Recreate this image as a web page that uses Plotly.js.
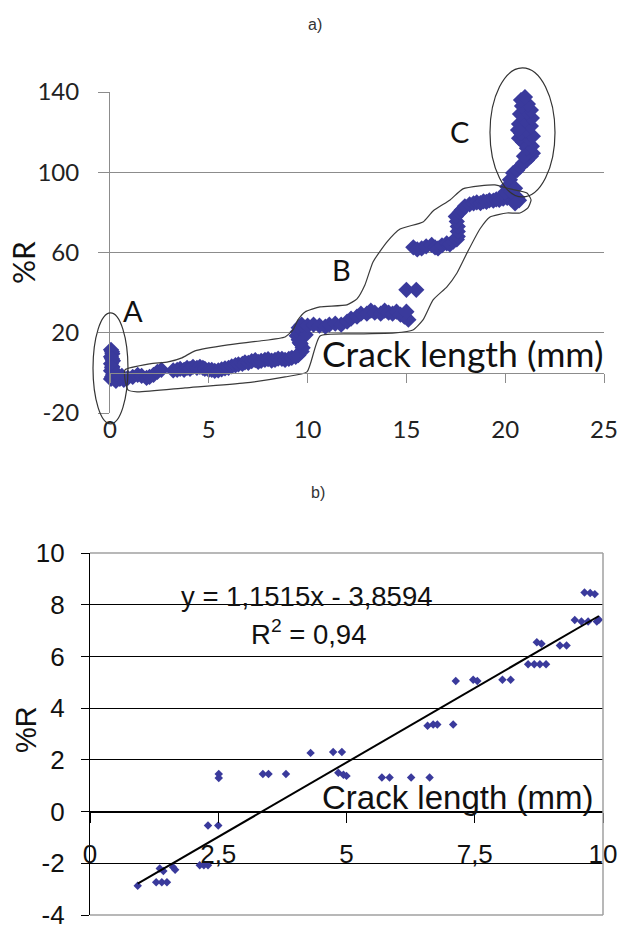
<!DOCTYPE html>
<html><head><meta charset="utf-8">
<script src="https://cdn.plot.ly/plotly-3.0.1.min.js"></script>
<style>html,body{margin:0;padding:0;background:#fff;}#chart{width:620px;height:925px;}</style>
</head><body><div id="chart"></div>
<script>
// ---------- Chart a) data ----------
const crackA = [
  0.05,0.12,0.05,0.15,0.05,0.12,0.05,0.15,0.05,0.1,0.1,0.1,0.1,0.3,0.5,0.7,0.6,0.35,
  0.9,1.15,1.4,1.6,1.85,2.0,2.2,2.4,2.6,
  3.2,3.4,3.55,3.75,3.9,4.05,4.2,4.4,4.55,4.7,4.8,5.0,5.15,5.3,5.48,5.65,5.82,6.0,6.16,6.35,6.5,6.7,6.83,7.0,7.17,7.35,7.5,7.65,7.84,8.0,8.18,8.35,8.51,8.7,8.86,9.05,9.2,9.4,9.53,9.7,
  9.75,9.65,9.55,9.45,9.5,9.55,9.75,9.9,9.7,9.6,
  10.0,10.3,10.6,10.9,11.1,11.4,11.7,12.0,12.2,12.5,12.7,13.0,13.2,13.4,13.7,13.9,14.1,14.3,14.5,14.7,14.9,15.1,15.0,15.0,15.5,
  15.35,15.55,15.77,16.0,16.28,16.45,16.6,16.8,17.04,17.2,17.37,17.55,17.6,17.6,17.6,17.55,17.5,17.7,17.8,17.96,
  18.2,18.4,18.56,18.75,18.9,19.05,19.2,19.4,19.55,19.7,19.9,20.1,20.3,20.45,20.6,20.7,20.5,
  20.0,20.1,20.24,20.4,20.3,20.5,20.6,20.75,20.9,21.1,21.3,21.4,
  21.2,20.95,21.1,21.35,20.9,21.2,21.4,20.7,20.8,21.05,21.3,20.7,21.0,21.35,20.75,21.1,21.3,20.85,21.15,20.8,21.0,20.65
];
const ratioA = [
  11.5,9.5,8,6,4.5,3,1,-1,-3,10.5,7,2.5,-2,-4,-3,-3.5,-1.5,-0.5,
  -2.5,-2,-1,-1.5,-2.5,-2,-1,0.5,1.5,
  1.2,1.5,2,1.5,2.5,2,3,2.5,3,2.5,2,1.5,1.5,1,1.2,1.8,2.2,2.5,3.2,3.8,4.2,4.5,5.2,5,5.8,6.3,5.5,6,6.5,6.8,6.1,6.5,7.1,7,6.5,7,7.5,8,8.8,10.6,
  12.5,14.5,16.5,18.5,20.5,22.5,21,19,24,15,
  23.5,24,23.5,23,24,24.5,24,25.5,27,28,29.5,29.5,31,30,29.5,31,30,29.5,30.5,29,28,26.5,30.5,41.4,41.4,
  62.6,61.5,62,63,63.8,62.5,62,63.5,64.6,64,65.4,66.5,68,70.5,73,75.5,78,80,81.2,83,
  84,84.5,85,84.6,85.5,85.2,86,85.8,86.5,86.2,86.8,87.2,87,87.8,87.5,86,84.5,
  90,92.8,96.2,99.6,90.5,92,101,102.8,104.5,106,108,109.5,
  110,108,112,113,115,117,118,117,119.5,121,123,124,126,127,129,130,131,133,134,136,137.5,121
];
// hand-drawn envelope around zone B (annotation outline, data units)
const envX = [0.76,2.02,2.94,3.64,4.30,5.97,7.59,8.86,9.26,9.51,9.87,10.63,11.99,12.50,12.90,13.31,14.02,14.68,15.84,16.35,17.21,17.86,18.72,19.48,20.24,21.10,21.31,21.15,20.75,20.09,19.23,18.72,18.07,17.56,17.05,16.35,15.84,15.33,14.42,12.65,10.63,9.97,8.86,6.83,3.80,1.37,0.91,0.76,0.76];
const envY = [1.5,4.5,5.5,7.5,11.0,14.0,15.9,17.9,21.4,26.4,30.4,32.9,33.9,36.9,43.8,55.3,65.3,71.7,75.2,80.7,86.2,91.7,93.2,93.7,91.7,89.7,86.2,82.2,79.7,79.7,77.7,71.7,59.8,49.8,42.9,36.4,26.4,21.4,19.9,19.4,18.4,0.5,-2.0,-5.0,-7.5,-9.5,-8.5,-3.5,1.5];
// ellipses A and C (data units)
const ellA = {x:[-0.86,0.91], y:[-25.4,29.9]};
const ellC = {x:[19.23,22.52], y:[87.7,152]};
const zoneLabels = ['A','B','C'];
const zoneX = [1.16,11.74,17.71];
const zoneY = [30.9,51.3,120.1];
const tickAX = [0,5,10,15,20,25];
const tickAY = [-20,20,60,100,140];
const tickAYText = ['-20','20','60','100','140'];
const rangeAX = [0,25], rangeAY = [-20,140];

// ---------- Chart b) data ----------
const crackB = [0.93,1.29,1.40,1.50,1.36,1.43,1.62,1.66,2.14,2.22,2.30,2.30,2.50,2.51,2.51,3.37,3.48,3.82,4.30,4.74,4.91,4.84,4.94,5.00,5.69,5.84,6.26,6.62,6.58,6.69,6.77,7.08,7.13,7.47,7.55,8.04,8.20,8.54,8.66,8.77,8.89,8.71,8.80,9.16,9.29,9.45,9.58,9.71,9.88,9.92,9.64,9.75,9.84];
const ratioB = [-2.87,-2.73,-2.73,-2.73,-2.20,-2.30,-2.15,-2.25,-2.08,-2.08,-2.08,-0.54,-0.54,1.45,1.30,1.45,1.45,1.45,2.27,2.30,2.30,1.50,1.42,1.38,1.32,1.32,1.32,1.32,3.32,3.37,3.37,3.37,5.05,5.10,5.05,5.10,5.10,5.70,5.70,5.70,5.70,6.55,6.49,6.42,6.42,7.41,7.35,7.35,7.35,7.42,8.47,8.45,8.41];
const slopeB = 1.1515, interceptB = -3.8594;
const tickBX = [0,2.5,5,7.5,10];
const tickBXText = ['0','2,5','5','7,5','10'];
const tickBY = [-4,-2,0,2,4,6,8,10];
const tickBYText = ['-4','-2','0','2','4','6','8','10'];
const rangeBX = [0,10], rangeBY = [-4,10];

// ---------- layout geometry ----------
const W = 620, H = 925;
const domAx = [110/W, 604/W], domAy = [1-413/H, 1-92/H];
const domBx = [90/W, 603/W], domBy = [1-915/H, 1-553/H];
function toPaper(v, r, d){ return d[0] + (v-r[0])/(r[1]-r[0])*(d[1]-d[0]); }
const zeroA = toPaper(0, rangeAY, domAy);
const zeroB = toPaper(0, rangeBY, domBy);

const trendX = [Math.min(...crackB), Math.max(...crackB)];
const trendY = trendX.map(v => slopeB*v + interceptB);

const blue = '#3a3a9c';
const gridA = '#8c8c8c';
const fA = 'Lato', fB = 'Liberation Sans, Arial, sans-serif';

const traces = [
  {x: crackA, y: ratioA, xaxis:'x', yaxis:'y', type:'scatter', mode:'markers',
   marker:{symbol:'diamond', size:12.5, color:blue}, cliponaxis:false, hoverinfo:'skip'},
  {x: envX, y: envY, xaxis:'x2', yaxis:'y', type:'scatter', mode:'lines',
   line:{color:'#3a3a3a', width:1.2, shape:'spline', smoothing:0.5}, cliponaxis:false, hoverinfo:'skip'},
  {x: crackB, y: ratioB, xaxis:'x3', yaxis:'y3', type:'scatter', mode:'markers',
   marker:{symbol:'diamond', size:6.5, color:blue}, cliponaxis:false, hoverinfo:'skip'},
  {x: trendX, y: trendY, xaxis:'x3', yaxis:'y3', type:'scatter', mode:'lines',
   line:{color:'#000', width:2}, hoverinfo:'skip'}
];

const shapes = [
  {type:'circle', xref:'paper', yref:'paper',
   x0: toPaper(ellA.x[0], rangeAX, domAx), x1: toPaper(ellA.x[1], rangeAX, domAx),
   y0: toPaper(ellA.y[0], rangeAY, domAy), y1: toPaper(ellA.y[1], rangeAY, domAy),
   line:{color:'#333', width:1.2}},
  {type:'circle', xref:'paper', yref:'paper',
   x0: toPaper(ellC.x[0], rangeAX, domAx), x1: toPaper(ellC.x[1], rangeAX, domAx),
   y0: toPaper(ellC.y[0], rangeAY, domAy), y1: toPaper(ellC.y[1], rangeAY, domAy),
   line:{color:'#333', width:1.2}},
  // plot-area border of chart b (top, right, bottom)
  {type:'line', xref:'paper', yref:'paper', x0:domBx[0], x1:domBx[1], y0:domBy[1], y1:domBy[1], line:{color:'#a0a0a0', width:1.5}, layer:'above'},
  {type:'line', xref:'paper', yref:'paper', x0:domBx[1], x1:domBx[1], y0:domBy[0], y1:domBy[1], line:{color:'#a0a0a0', width:1.5}, layer:'above'},
  {type:'line', xref:'paper', yref:'paper', x0:domBx[0], x1:domBx[1], y0:domBy[0], y1:domBy[0], line:{color:'#a0a0a0', width:1.5}, layer:'above'}
];

function note(text, x, y, font, extra){
  return Object.assign({text:text, xref:'paper', yref:'paper', x:x/W, y:1-y/H, xanchor:'center', yanchor:'middle', showarrow:false, font:font}, extra||{});
}
const annotations = [
  note('a)', 315, 25, {family:fB, size:16, color:'#333'}),
  note('b)', 318, 492, {family:fB, size:16, color:'#333'}),
  note('%R', 23, 263, {family:fA, size:30, color:'#111'}, {textangle:-90}),
  note('%R', 26, 730, {family:fB, size:29, color:'#111'}, {textangle:-90}),
  note('Crack length (mm)', 462, 353, {family:fA, size:35.5, color:'#111'}),
  note('Crack length (mm)', 457, 797, {family:fB, size:33, color:'#111'}),
  note('y = 1,1515x - 3,8594', 307, 596, {family:fB, size:27.5, color:'#111'}),
  note('R<sup>2</sup> = 0,94', 308, 632, {family:fB, size:27.5, color:'#111'})
];
zoneLabels.forEach((t,i)=>annotations.push({text:t, xref:'x', yref:'y', x:zoneX[i], y:zoneY[i], xanchor:'center', yanchor:'middle', showarrow:false, font:{family:fA, size:29, color:'#111'}}));

const layout = {
  width: W, height: H,
  margin:{l:0, r:0, t:0, b:0},
  paper_bgcolor:'#fff', plot_bgcolor:'rgba(0,0,0,0)',
  showlegend:false,
  xaxis:{domain:domAx, range:rangeAX, anchor:'y', tickvals:tickAX, ticks:'', showline:false, showgrid:false, zeroline:false,
         tickfont:{family:fA, size:24, color:'#222'}, ticklabelstandoff:0, ticklabeloverflow:'allow', fixedrange:true},
  xaxis2:{overlaying:'x', range:rangeAX, anchor:'free', position:zeroA, side:'bottom', tickvals:tickAX,
          ticks:'outside', ticklen:9, tickcolor:gridA, tickwidth:1, showline:true, linecolor:gridA, linewidth:1,
          showticklabels:false, showgrid:false, zeroline:false, fixedrange:true},
  yaxis:{domain:domAy, range:rangeAY, anchor:'x', tickvals:tickAY, ticktext:tickAYText, ticks:'outside', ticklen:11, tickcolor:gridA,
         showline:true, linecolor:gridA, linewidth:1, showgrid:true, gridcolor:gridA, gridwidth:1, zeroline:false,
         tickfont:{family:fA, size:24, color:'#222'}, ticklabelstandoff:14, ticklabeloverflow:'allow', fixedrange:true},
  xaxis3:{domain:domBx, range:rangeBX, anchor:'free', position:zeroB, side:'bottom', tickvals:tickBX, ticktext:tickBXText,
          ticks:'outside', ticklen:10, tickcolor:'#000', showline:true, linecolor:'#000', linewidth:1.2,
          showgrid:false, zeroline:false, tickfont:{family:fB, size:26, color:'#111'}, ticklabelstandoff:9, ticklabeloverflow:'allow', fixedrange:true},
  yaxis3:{domain:domBy, range:rangeBY, anchor:'x3', tickvals:tickBY, ticktext:tickBYText, ticks:'outside', ticklen:8, tickcolor:'#000',
          showline:true, linecolor:'#000', linewidth:1.2, showgrid:true, gridcolor:'#000', gridwidth:1, zeroline:false,
          tickfont:{family:fB, size:26, color:'#111'}, ticklabelstandoff:11, ticklabeloverflow:'allow', fixedrange:true},
  shapes: shapes,
  annotations: annotations
};

Plotly.newPlot('chart', traces, layout, {staticPlot:true, displayModeBar:false});
</script>
</body></html>
